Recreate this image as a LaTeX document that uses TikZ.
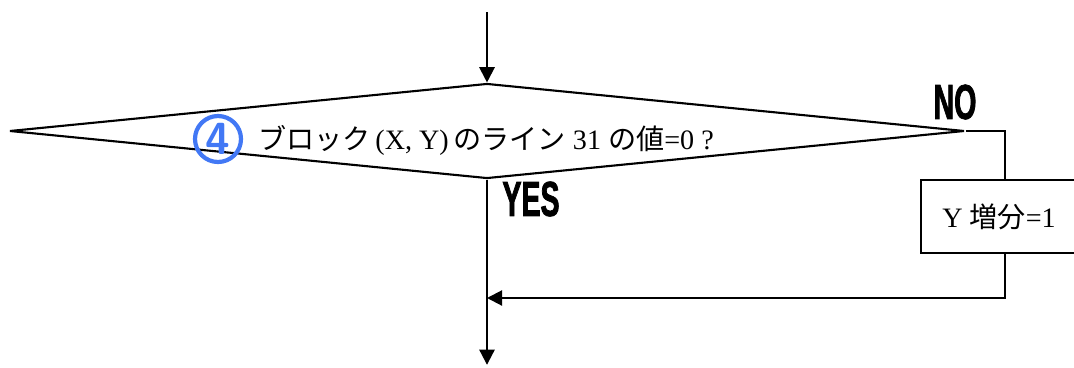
\documentclass[tikz,border=0pt]{standalone}
\usepackage{fontspec}
\setmainfont{Liberation Serif}
\newfontfamily\cjk{Noto Sans CJK JP}
\newfontfamily\condsans[FakeStretch=0.58, BoldFeatures={FakeBold=1.5}]{Liberation Sans}
\usetikzlibrary{arrows.meta,shapes.geometric}
\definecolor{numblue}{RGB}{66,120,245}

\begin{document}
\begin{tikzpicture}[
  decision/.style={draw, diamond, line width=1.5pt, inner sep=0pt,
                   minimum width=23.875cm, minimum height=2.375cm},
  procbox/.style={draw, line width=1.5pt, minimum width=4.2cm, minimum height=1.825cm},
  flow/.style={line width=1.5pt},
  arr/.style={-{Triangle[length=3.8mm, width=3.8mm]}, line width=1.5pt},
  answer/.style={font=\condsans\bfseries\fontsize{35}{35}\selectfont, inner sep=0pt},
  stepnum/.style={circle, draw=numblue, line width=3pt, text=numblue, inner sep=0pt,
                  minimum size=1.15cm, font=\sffamily\bfseries\fontsize{32}{32}\selectfont}
]
  \clip (0,0) rectangle (26.85,-9.175);

  \coordinate (start) at (12.175,-0.3);
  \node[decision] (dec) at (12.175,-3.275) {};
  \node[font=\fontsize{20}{20}\selectfont] (cond) at (12.15,-3.5)
    {{\cjk ブロック}\,(X, Y)\,{\cjk のライン} 31 {\cjk の値}=0 ?};
  \node[stepnum] (num) at (5.45,-3.475) {4};

  \node[procbox] (inc) at (25.125,-5.4125)
    {\fontsize{20}{20}\selectfont Y {\cjk 増分}=1\kern0.3cm};

  \coordinate (merge) at (12.175,-7.45);
  \coordinate (finish) at (12.175,-9.12);

  % main line
  \draw[arr] (start) -- (dec.north);
  \draw[arr] (dec.south) -- (finish);

  % NO branch
  \draw[flow] (dec.east) -| (inc.north);
  \draw[arr] (inc.south) |- (merge);

  \node[answer] (no) at (23.875,-2.55) {NO};
  \node[answer] (yes) at (13.275,-4.975) {YES};
\end{tikzpicture}
\end{document}
